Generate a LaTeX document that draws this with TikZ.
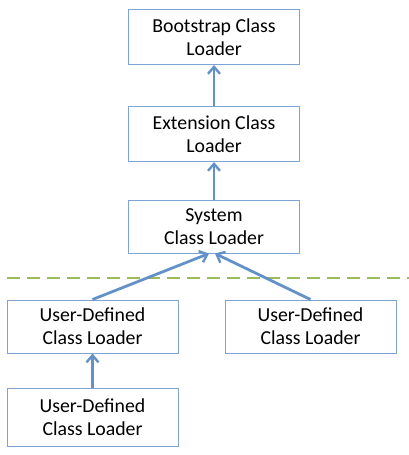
\documentclass[tikz,border=0pt]{standalone}
\usepackage{fontspec}
\setmainfont{Carlito}
\usepackage{tikz}
\definecolor{boxblue}{RGB}{125, 164, 212}
\definecolor{arrowblue}{RGB}{100, 146, 200}
\definecolor{greenish}{RGB}{155, 187, 89}
\usetikzlibrary{arrows.meta}
\tikzset{
  loader/.style = {draw=boxblue, line width=1pt, fill=white, align=center,
    minimum width=171pt, minimum height=55pt, inner sep=0pt,
    font=\fontsize{19.8}{23}\selectfont},% boite du chargeur
  parent/.style = {-{Straight Barb[length=7pt, width=12pt, line width=2.4pt]},
    arrowblue, line width=2.8pt},% fleche vers le parent
}
\begin{document}
\begin{tikzpicture}[x=1pt, y=-1pt]
\useasboundingbox (0,0) rectangle (409,455);
\node [loader] (boot) at (214,37) {Bootstrap Class\\Loader};
\node [loader] (ext) at (214,134) {Extension Class\\Loader};
\node [loader, minimum height=53pt] (sys) at (214,226.5) {System\\Class Loader};
\node [loader, minimum height=53pt] (udl) at (92.5,326.5) {User-Defined\\Class Loader};
\node [loader, minimum height=53pt] (udr) at (310.5,326.5) {User-Defined\\Class Loader};
\node [loader, minimum height=58pt] (udb) at (92.5,417.5) {User-Defined\\Class Loader};
\coordinate (sepl) at (7,278);
\coordinate (sepr) at (409,278);
\draw [greenish, line width=2.6pt, dash pattern=on 13pt off 7pt] (sepl) -- (sepr);
\draw [parent] (ext) -- (boot);
\draw [parent] (sys) -- (ext);
\draw [parent] (udl.north) -- ([xshift=-5pt]sys.south);
\draw [parent] (udr.north) -- ([xshift=1pt]sys.south);
\draw [parent] (udb) -- (udl);
\end{tikzpicture}
\end{document}
